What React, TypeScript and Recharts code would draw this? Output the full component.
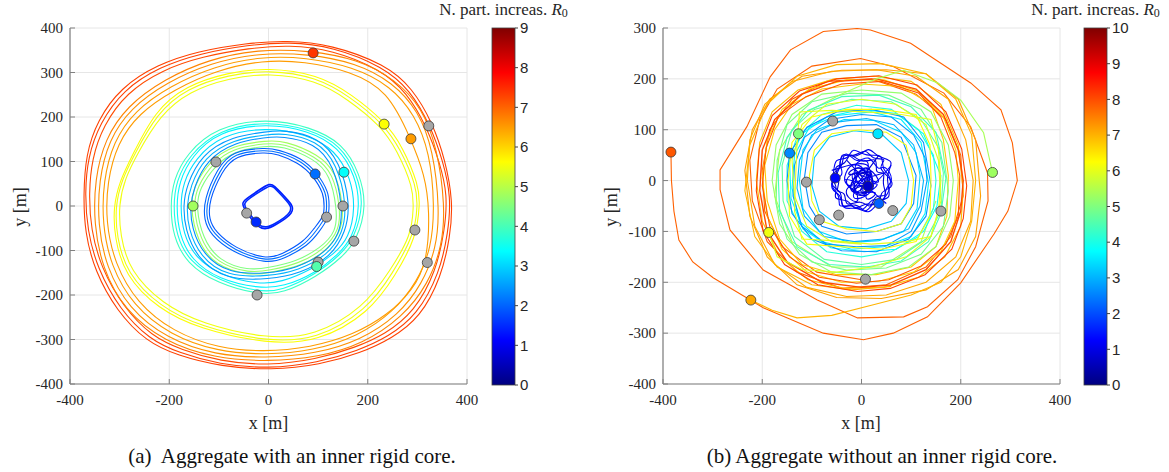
import React from 'react';
import { ScatterChart, Scatter, XAxis, YAxis, CartesianGrid } from 'recharts';

type P = [number, number];

// ---------- panel (a): aggregate with an inner rigid core ----------
const redA1: P[] = [[368,20],[362,-60],[345,-150],[300,-245],[240,-295],[180,-325],[100,-352],[0,-366],[-100,-356],[-180,-330],[-240,-300],[-300,-232],[-345,-140],[-365,-55],[-370,30],[-364,110],[-340,186],[-293,261],[-219,313],[-138,343],[-40,362],[40,369],[130,358],[231,313],[285,261],[326,182],[352,100]];
const redA2: P[] = [[361,25],[355,-55],[338,-146],[294,-238],[234,-289],[175,-318],[96,-345],[-2,-359],[-98,-349],[-176,-323],[-235,-293],[-293,-227],[-338,-137],[-358,-52],[-362,28],[-356,106],[-333,181],[-286,255],[-214,306],[-134,336],[-38,355],[42,362],[128,351],[226,307],[279,255],[319,178],[345,98]];
const redA3: P[] = [[372,10],[366,-70],[348,-160],[306,-250],[248,-298],[186,-330],[104,-357],[5,-369],[-95,-361],[-184,-336],[-246,-305],[-306,-236],[-350,-146],[-370,-60],[-373,25],[-368,116],[-345,192],[-298,266],[-224,318],[-142,348],[-44,366],[36,372],[126,363],[236,318],[290,265],[331,186],[356,104]];
const orangeA1: P[] = [[356,0],[350,-90],[322,-175],[270,-250],[190,-310],[100,-340],[0,-350],[-110,-342],[-210,-305],[-290,-235],[-335,-140],[-352,-40],[-350,60],[-330,150],[-285,225],[-210,285],[-120,330],[-20,352],[80,350],[180,330],[255,285],[310,220],[340,130]];
const orangeA2: P[] = [[345,-10],[338,-95],[310,-175],[262,-245],[185,-302],[95,-332],[-5,-342],[-108,-335],[-205,-298],[-282,-230],[-327,-138],[-344,-42],[-342,58],[-322,148],[-278,220],[-205,278],[-116,322],[-18,344],[78,342],[176,322],[250,278],[302,214],[332,126]];
const orangeA3: P[] = [[335,0],[328,-95],[300,-170],[252,-238],[180,-293],[90,-325],[-5,-335],[-104,-327],[-198,-290],[-273,-224],[-318,-134],[-335,-40],[-333,56],[-313,144],[-270,214],[-198,270],[-110,314],[-15,336],[75,334],[170,313],[246,270],[295,205],[325,120]];
const orangeA4: P[] = [[325,-10],[320,-127],[290,-190],[240,-245],[170,-290],[85,-318],[-10,-328],[-100,-320],[-192,-283],[-265,-218],[-310,-130],[-328,-35],[-325,55],[-305,140],[-262,208],[-190,262],[-105,305],[-12,328],[72,325],[165,303],[240,260],[287,151],[315,70]];
const yellowA1: P[] = [[300,0],[295,-60],[251,-151],[198,-234],[97,-301],[-4,-305],[-138,-271],[-219,-226],[-286,-151],[-306,-69],[-309,0],[-295,60],[-273,110],[-225,209],[-164,265],[-80,295],[0,306],[97,290],[164,246],[232,184],[265,130],[299,43]];
const yellowA2: P[] = [[292,-5],[288,-65],[245,-146],[192,-228],[94,-293],[-6,-298],[-134,-265],[-214,-220],[-280,-146],[-299,-66],[-302,4],[-289,62],[-266,114],[-219,204],[-160,258],[-78,288],[2,299],[95,283],[160,240],[226,180],[259,126],[292,40]];
const yellowA3: P[] = [[305,5],[298,-70],[256,-156],[203,-240],[100,-306],[-2,-310],[-140,-276],[-223,-231],[-290,-155],[-310,-72],[-313,-2],[-299,58],[-277,108],[-229,214],[-167,270],[-82,300],[-2,311],[99,296],[168,251],[236,188],[270,134],[303,46]];
const greenA1: P[] = [[144,0],[144,-54],[110,-99],[63,-129],[0,-145],[-37,-151],[-104,-129],[-138,-76],[-152,0],[-144,43],[-112,97],[-71,130],[-4,141],[29,141],[97,111],[130,73]];
const greenA2: P[] = [[150,5],[150,-52],[115,-104],[66,-135],[2,-150],[-38,-157],[-108,-134],[-144,-79],[-158,2],[-150,46],[-117,102],[-74,136],[-2,147],[31,147],[101,116],[136,76]];
const greenA3: P[] = [[138,-5],[137,-58],[104,-95],[58,-124],[-3,-139],[-40,-145],[-100,-124],[-133,-72],[-146,-3],[-139,40],[-107,92],[-68,124],[-6,135],[27,135],[93,106],[124,70]];
const cyanA1: P[] = [[198,0],[178,-76],[150,-114],[97,-159],[29,-196],[-17,-200],[-104,-174],[-165,-129],[-192,-69],[-198,-2],[-192,58],[-165,118],[-104,178],[-4,197],[84,178],[150,141],[184,73]];
const cyanA2: P[] = [[192,5],[174,-70],[145,-110],[94,-154],[27,-190],[-18,-194],[-100,-168],[-160,-125],[-186,-66],[-192,0],[-186,56],[-160,114],[-100,172],[-3,191],[82,173],[146,137],[179,70]];
const cyanA3: P[] = [[185,0],[170,-70],[140,-110],[95,-150],[30,-182],[-20,-185],[-100,-165],[-155,-122],[-180,-65],[-186,0],[-180,55],[-155,112],[-100,168],[-5,186],[80,170],[142,132],[175,68]];
const cyanA4: P[] = [[175,-5],[162,-72],[132,-108],[88,-142],[25,-172],[-22,-176],[-96,-156],[-148,-116],[-172,-62],[-178,2],[-172,52],[-148,106],[-95,160],[-6,177],[76,162],[135,126],[166,62]];
const azureA1: P[] = [[158,0],[150,-60],[120,-110],[60,-145],[0,-158],[-84,-159],[-138,-114],[-162,-50],[-165,0],[-158,43],[-130,110],[-70,150],[-4,160],[29,164],[97,148],[138,96]];
const azureA2: P[] = [[165,5],[156,-58],[126,-114],[64,-152],[2,-165],[-86,-166],[-144,-118],[-168,-52],[-172,2],[-165,46],[-136,115],[-73,157],[-2,167],[31,171],[101,155],[144,100]];
const azureA3: P[] = [[150,-5],[144,-62],[114,-106],[56,-140],[-2,-152],[-80,-152],[-132,-110],[-155,-48],[-158,-2],[-151,40],[-124,105],[-66,144],[-6,154],[27,157],[93,142],[132,92]];
const blueA1: P[] = [[117,0],[117,-24],[97,-54],[77,-84],[29,-114],[-4,-125],[-71,-99],[-112,-61],[-125,-31],[-125,14],[-98,81],[-71,119],[-4,126],[17,122],[64,103],[94,72],[117,29]];
const blueA2: P[] = [[122,2],[122,-26],[102,-58],[81,-88],[31,-119],[-4,-130],[-74,-104],[-117,-64],[-130,-32],[-130,15],[-103,84],[-74,124],[-4,131],[18,127],[67,108],[98,75],[122,30]];
const blueA3: P[] = [[112,-3],[112,-22],[92,-50],[72,-80],[26,-109],[-4,-120],[-68,-95],[-107,-58],[-120,-30],[-120,12],[-94,77],[-68,114],[-5,121],[16,117],[60,98],[90,68],[112,27]];
const squareA1: P[] = [[3,52],[-20,35],[-40,20],[-54,8],[-50,-5],[-35,-28],[-24,-46],[-5,-54],[15,-42],[35,-28],[47,-16],[50,-2],[40,12],[25,30],[12,45]];
const squareA2: P[] = [[5,48],[-18,32],[-38,18],[-50,6],[-46,-6],[-32,-26],[-22,-42],[-5,-50],[14,-39],[33,-26],[44,-14],[46,-1],[37,11],[23,28],[11,42]];

// markers: v = R0 value, null = grey marker
const dotsA = [
  { x: 90, y: 344, v: 7.4 }, { x: 233, y: 184, v: 5.6 }, { x: 287, y: 151, v: 6.5 },
  { x: 323, y: 180, v: null }, { x: 295, y: -54, v: null }, { x: 320, y: -127, v: null },
  { x: 94, y: 72, v: 2.1 }, { x: 152, y: 76, v: 3.4 }, { x: 117, y: -25, v: null },
  { x: 150, y: 0, v: null }, { x: 172, y: -79, v: null }, { x: 100, y: -126, v: null },
  { x: 97, y: -136, v: 4.1 }, { x: -23, y: -200, v: null }, { x: -152, y: 0, v: 4.8 },
  { x: -106, y: 99, v: null }, { x: -44, y: -16, v: null }, { x: -25, y: -36, v: 1.5 },
];

// ---------- panel (b): aggregate without an inner rigid core ----------
const outerB: P[] = [[-384,56],[-383,0],[-378,-60],[-368,-117],[-340,-160],[-299,-191],[-198,-250],[-77,-300],[4,-313],[64,-300],[133,-268],[200,-201],[267,-105],[295,-60],[314,0],[304,74],[281,139],[220,192],[99,270],[18,296],[-9,299],[-77,293],[-143,257],[-184,204],[-231,106],[-285,21],[-285,-18],[-265,-97],[-198,-176],[-89,-235],[-8,-270],[85,-268],[133,-248],[194,-195],[230,-130],[255,-40],[254,15],[220,106],[166,172],[65,224],[-2,240],[-100,225],[-170,180],[-205,120],[-225,40],[-220,-40],[-190,-120],[-130,-180],[-40,-212],[50,-205],[130,-170],[180,-110],[205,-30],[200,50],[170,120],[110,170],[20,200],[-70,195],[-140,160],[-185,100],[-200,20],[-195,-60],[-160,-130],[-90,-180],[0,-195]];
const orangeB1: P[] = [[225,0],[220,-80],[190,-150],[130,-200],[50,-225],[-30,-228],[-110,-210],[-175,-165],[-215,-90],[-230,0],[-225,80],[-195,150],[-140,195],[-60,215],[30,218],[110,205],[175,160],[210,80]];
const orangeB2: P[] = [[205,-20],[200,-90],[168,-150],[115,-190],[45,-210],[-35,-212],[-108,-195],[-165,-150],[-200,-80],[-212,0],[-205,75],[-180,135],[-128,178],[-55,200],[25,205],[100,195],[160,150],[195,70]];
const orangeB3: P[] = [[-223,-235],[-180,-255],[-130,-270],[-60,-265],[20,-245],[100,-225],[160,-200],[200,-150],[222,-80],[230,0],[222,90],[190,160],[130,210],[40,230],[-50,228],[-130,205],[-190,150],[-225,70],[-235,-20],[-215,-110],[-170,-170],[-100,-205],[-20,-215],[60,-208]];
const orangeB4: P[] = [[175,10],[172,-70],[150,-130],[100,-170],[30,-185],[-50,-185],[-120,-165],[-165,-115],[-190,-40],[-195,30],[-175,100],[-140,150],[-80,180],[0,190],[80,185],[140,150],[165,80]];
const orangeB5: P[] = [[240,-30],[230,-110],[195,-175],[130,-215],[40,-232],[-50,-230],[-130,-205],[-190,-150],[-225,-70],[-235,20],[-220,100],[-185,160],[-120,205],[-40,217],[50,218],[130,210],[195,160],[230,80]];
const orangeB6: P[] = [[195,0],[188,-80],[160,-140],[105,-180],[35,-198],[-40,-200],[-110,-180],[-160,-135],[-190,-70],[-200,5],[-190,80],[-160,140],[-105,180],[-30,198],[45,198],[115,175],[165,125],[190,60]];
const redB1: P[] = [[205,0],[200,-60],[180,-120],[130,-175],[60,-205],[0,-210],[-80,-200],[-150,-160],[-190,-100],[-205,-20],[-200,60],[-175,120],[-120,170],[-50,195],[30,200],[110,180],[165,130],[195,60]];
const redB2: P[] = [[198,10],[195,-70],[170,-125],[120,-168],[55,-195],[-10,-202],[-85,-190],[-145,-150],[-185,-90],[-200,-10],[-192,65],[-168,125],[-112,165],[-40,190],[40,195],[115,172],[160,125],[188,55]];
const redB3: P[] = [[212,-10],[205,-75],[182,-135],[128,-185],[58,-212],[-8,-218],[-88,-205],[-155,-165],[-198,-100],[-212,-20],[-206,62],[-180,128],[-125,176],[-50,200],[35,206],[112,188],[170,135],[202,62]];
const greenB1: P[] = [[185,0],[178,-70],[150,-130],[95,-170],[20,-185],[-60,-180],[-125,-145],[-165,-85],[-180,0],[-172,70],[-140,130],[-80,170],[0,178],[80,172],[140,135],[175,70]];
const greenB2: P[] = [[165,15],[160,-60],[130,-115],[70,-155],[0,-165],[-75,-155],[-135,-110],[-158,-40],[-160,30],[-140,100],[-95,140],[-20,160],[60,155],[120,120],[155,65]];
const greenB3: P[] = [[150,-40],[120,-120],[40,-170],[-60,-170],[-140,-120],[-175,-30],[-165,60],[-120,130],[-40,170],[30,200],[85,217],[154,192],[200,158],[246,94],[257,46],[264,16]];
const greenB4: P[] = [[175,-20],[165,-90],[120,-145],[50,-172],[-30,-176],[-100,-160],[-150,-115],[-172,-45],[-170,40],[-150,110],[-100,155],[-25,172],[55,168],[120,140],[162,75]];
const greenB5: P[] = [[170,5],[160,-65],[135,-120],[80,-158],[10,-170],[-65,-165],[-130,-130],[-165,-60],[-168,15],[-150,85],[-108,138],[-40,165],[35,168],[100,145],[150,95]];
const tealB1: P[] = [[150,0],[145,-55],[115,-110],[60,-140],[0,-150],[-70,-140],[-120,-100],[-150,-40],[-150,30],[-130,85],[-80,130],[-10,148],[60,140],[115,100],[145,50]];
const tealB2: P[] = [[135,-5],[128,-65],[100,-110],[45,-130],[-20,-135],[-80,-120],[-125,-80],[-140,-15],[-135,50],[-105,105],[-50,128],[20,135],[80,120],[120,75]];
const tealB3: P[] = [[160,10],[152,-50],[125,-100],[70,-135],[5,-140],[-62,-132],[-118,-95],[-142,-35],[-145,38],[-120,92],[-70,125],[0,140],[70,132],[125,92]];
const cyanB1: P[] = [[118,10],[112,-55],[85,-100],[35,-118],[-25,-122],[-85,-100],[-118,-55],[-125,0],[-118,60],[-90,100],[-35,120],[25,118],[80,95],[110,55]];
const azureB1: P[] = [[125,0],[118,-50],[95,-95],[45,-115],[-15,-120],[-75,-110],[-115,-70],[-130,-15],[-125,40],[-100,90],[-50,115],[10,122],[65,110],[105,70]];
const azureB2: P[] = [[110,10],[105,-45],[80,-85],[30,-100],[-30,-105],[-80,-90],[-105,-50],[-115,5],[-108,55],[-80,95],[-30,108],[30,110],[80,85]];
const azureB3: P[] = [[140,-10],[130,-70],[95,-115],[30,-140],[-40,-138],[-100,-115],[-140,-65],[-150,0],[-145,54],[-110,105],[-50,135],[20,140],[85,125],[125,75]];
const azureB4: P[] = [[95,0],[90,-45],[60,-80],[10,-95],[-45,-90],[-85,-60],[-100,-10],[-95,45],[-65,85],[-15,98],[40,92],[80,55]];
const azureB5: P[] = [[132,0],[120,-60],[100,-100],[50,-128],[-10,-130],[-70,-125],[-120,-90],[-138,-30],[-135,30],[-115,85],[-65,120],[0,130],[60,125],[105,90],[128,45]];
const yellowB1: P[] = [[160,0],[155,-60],[140,-110],[90,-120],[20,-125],[-60,-118],[-120,-115],[-135,-60],[-133,0],[-130,70],[-125,135],[-60,138],[10,135],[80,130],[140,120],[155,60]];
const yellowB2: P[] = [[105,0],[100,-50],[80,-85],[30,-100],[-30,-95],[-80,-80],[-100,-40],[-105,10],[-95,60],[-60,92],[-5,100],[50,95],[90,70]];
const yellowB3: P[] = [[-187,-102],[-170,-150],[-120,-175],[-50,-180],[20,-170],[90,-150],[140,-110],[160,-40],[155,40],[130,110],[70,150],[0,160],[-70,150],[-120,110],[-140,40],[-135,-30],[-110,-90],[-60,-120],[0,-125]];
const yellowB4: P[] = [[140,5],[138,-70],[110,-120],[40,-135],[-40,-130],[-110,-125],[-145,-70],[-148,0],[-140,75],[-100,125],[-30,140],[40,140],[110,130],[138,70]];
const tangleB1: P[] = [[60,5],[30,25],[55,45],[20,40],[10,65],[-15,45],[-40,55],[-35,25],[-70,10],[-45,-10],[-60,-40],[-25,-35],[-15,-62],[10,-40],[40,-55],[35,-20],[65,-15]];
const tangleB2: P[] = [[50,20],[25,10],[35,50],[0,30],[-25,60],[-30,30],[-60,30],[-40,0],[-55,-25],[-30,-20],[-35,-55],[0,-35],[20,-60],[25,-25],[55,-35],[40,-5]];
const tangleB3: P[] = [[68,0],[45,35],[35,15],[15,55],[-10,30],[-30,62],[-50,35],[-30,10],[-72,-5],[-40,-30],[-50,-55],[-20,-45],[5,-65],[20,-30],[50,-45],[45,-15]];
const tangleB6: P[] = [[55,-30],[62,10],[40,20],[45,55],[10,45],[-20,68],[-25,40],[-55,45],[-55,15],[-65,-20],[-40,-25],[-40,-60],[-10,-50],[15,-68],[30,-45]];
const tangleB7: P[] = [[45,10],[70,40],[30,45],[15,70],[-10,40],[-45,60],[-40,20],[-70,-10],[-35,-20],[-45,-60],[-10,-40],[10,-70],[25,-35],[65,-40]];
const zigB1: P[] = [[-60,20],[40,50],[-10,-60],[55,-10],[-50,-40],[20,60],[30,-50],[-65,5],[50,35],[-30,-55],[0,55],[60,-30],[-45,45],[15,-65],[-60,-15],[45,15]];
const zigB2: P[] = [[50,-45],[-40,30],[35,55],[-20,-50],[65,10],[-55,-30],[-15,62],[40,-30],[-65,25],[20,-60],[30,40],[-45,-55],[55,-15],[-30,50],[0,-40],[60,30]];
const zigB3: P[] = [[-30,40],[30,-20],[-20,-30],[40,30],[-50,0],[10,45],[20,-45],[-40,-15],[45,-5],[-10,30],[-35,-45],[35,50]];

const dotsB = [
  { x: -384, y: 56, v: 7.9 }, { x: -223, y: -235, v: 7.1 }, { x: -187, y: -102, v: 6.1 },
  { x: 264, y: 16, v: 5.3 }, { x: -58, y: 117, v: null }, { x: -127, y: 92, v: 5.0 },
  { x: 33, y: 92, v: 3.5 }, { x: -145, y: 54, v: 2.6 }, { x: -111, y: -3, v: null },
  { x: -53, y: 5, v: 1.3 }, { x: 13, y: -11, v: 0.7 }, { x: 35, y: -45, v: 2.2 },
  { x: 63, y: -59, v: null }, { x: 160, y: -60, v: null }, { x: -85, y: -77, v: null },
  { x: -46, y: -68, v: null }, { x: 8, y: -194, v: null },
];

const xTicks = [-400, -200, 0, 200, 400];
const yTicksA = [-400, -300, -200, -100, 0, 100, 200, 300, 400];
const yTicksB = [-400, -300, -200, -100, 0, 100, 200, 300];
const cbarTicksA = [0, 1, 2, 3, 4, 5, 6, 7, 8, 9];
const cbarTicksB = [0, 1, 2, 3, 4, 5, 6, 7, 8, 9, 10];

type Curve = 'basisClosed' | 'linearClosed' | 'linear' | 'basis';
type Path = { pts: P[]; level: number; curve?: Curve; w?: number };

const pathsA: Path[] = [
  { pts: redA3, level: 7.3 }, { pts: redA1, level: 7.3 }, { pts: redA2, level: 7.2 },
  { pts: orangeA1, level: 6.7 }, { pts: orangeA2, level: 6.6 }, { pts: orangeA3, level: 6.5 }, { pts: orangeA4, level: 6.5 },
  { pts: yellowA3, level: 5.6 }, { pts: yellowA1, level: 5.5 }, { pts: yellowA2, level: 5.5 },
  { pts: cyanA1, level: 3.9 }, { pts: cyanA2, level: 3.6 }, { pts: cyanA3, level: 3.3 }, { pts: cyanA4, level: 3.1 },
  { pts: greenA2, level: 4.8 }, { pts: greenA1, level: 4.7 }, { pts: greenA3, level: 4.5 },
  { pts: azureA2, level: 2.5 }, { pts: azureA1, level: 2.7 }, { pts: azureA3, level: 2.4 },
  { pts: blueA2, level: 2.0 }, { pts: blueA1, level: 2.1 }, { pts: blueA3, level: 1.9 },
  { pts: squareA1, level: 1.4, w: 1.6 }, { pts: squareA2, level: 1.5, w: 1.6 },
];

const pathsB: Path[] = [
  { pts: outerB, level: 7.8, curve: 'linear' },
  { pts: orangeB5, level: 7.2 }, { pts: orangeB1, level: 7.1 }, { pts: orangeB3, level: 7.0, curve: 'linear' },
  { pts: orangeB2, level: 6.9 }, { pts: orangeB4, level: 6.8 }, { pts: orangeB6, level: 6.7 },
  { pts: redB3, level: 8.1 }, { pts: redB1, level: 8.0, w: 1.4 }, { pts: redB2, level: 7.9 },
  { pts: greenB1, level: 5.2 }, { pts: greenB4, level: 4.9 }, { pts: greenB3, level: 5.4, curve: 'linear' },
  { pts: greenB2, level: 4.7 }, { pts: greenB5, level: 4.4 },
  { pts: tealB3, level: 3.8 }, { pts: tealB1, level: 4.1 }, { pts: tealB2, level: 3.6 }, { pts: cyanB1, level: 3.4 },
  { pts: azureB3, level: 2.7 }, { pts: azureB5, level: 2.8 }, { pts: azureB1, level: 3.0 },
  { pts: azureB2, level: 2.6 }, { pts: azureB4, level: 3.2 },
  { pts: yellowB4, level: 6.2 }, { pts: yellowB1, level: 6.0 }, { pts: yellowB3, level: 5.9, curve: 'linear' }, { pts: yellowB2, level: 6.1 },
  { pts: tangleB6, level: 1.2, curve: 'basisClosed' }, { pts: tangleB1, level: 1.0, curve: 'basisClosed' },
  { pts: tangleB3, level: 1.3, curve: 'basisClosed' }, { pts: tangleB7, level: 1.0, curve: 'basisClosed' },
  { pts: tangleB2, level: 0.9, curve: 'basisClosed' },
  { pts: zigB1, level: 1.0, curve: 'basis' }, { pts: zigB2, level: 1.2, curve: 'basis' }, { pts: zigB3, level: 0.8, curve: 'basis' },
];

// MATLAB jet colormap
function jet(t: number) {
  const c = (v: number) => Math.round(255 * Math.max(0, Math.min(1, v)));
  const r = c(1.5 - Math.abs(4 * t - 3));
  const g = c(1.5 - Math.abs(4 * t - 2));
  const b = c(1.5 - Math.abs(4 * t - 1));
  return `rgb(${r},${g},${b})`;
}
const jetStops = [0, 0.125, 0.375, 0.625, 0.875, 1];

const toXY = (arr: P[]) => arr.map(([x, y]) => ({ x, y }));
const noDot = () => <g />;

const SERIF = "'Liberation Serif', 'Times New Roman', serif";
const SANS = "'Liberation Sans', Arial, sans-serif";
const TXT = '#262626';
const AXIS = '#808080';

const XTick = (props: any) => {
  const { x, y, payload } = props;
  return (
    <g>
      <line x1={x} x2={x} y1={y - 10} y2={y - 15} stroke={AXIS} />
      <text x={x} y={y} dy="0.71em" textAnchor="middle" fontFamily={SERIF} fontSize={15} fill={TXT}>{payload.value}</text>
    </g>
  );
};

const YTick = (props: any) => {
  const { x, y, payload } = props;
  return (
    <g>
      <line x1={x + 7} x2={x + 12} y1={y} y2={y} stroke={AXIS} />
      <text x={x} y={y} dy="0.35em" textAnchor="end" fontFamily={SERIF} fontSize={15} fill={TXT}>{payload.value}</text>
    </g>
  );
};

function Panel({ paths, dots, max, yDomain, yTicks, closedType }: {
  paths: Path[]; dots: { x: number; y: number; v: number | null }[]; max: number;
  yDomain: [number, number]; yTicks: number[]; closedType: Curve;
}) {
  const dotShape = (props: any) => {
    const { cx, cy, payload } = props;
    const fill = payload.v == null ? '#a6a6a6' : jet(payload.v / max);
    return <circle cx={cx} cy={cy} r={5} fill={fill} stroke="#3a3a3a" strokeWidth={0.8} />;
  };
  return (
    <ScatterChart width={480} height={420} margin={{ top: 28, right: 13, bottom: 6, left: 0 }}>
      <CartesianGrid stroke="#e6e6e6" />
      <XAxis type="number" dataKey="x" domain={[-400, 400]} ticks={xTicks} allowDataOverflow
        height={30} tickSize={4} tickMargin={6} tickLine={false} tick={<XTick />}
        axisLine={{ stroke: AXIS, strokeWidth: 1.2 }} />
      <YAxis type="number" dataKey="y" domain={yDomain} ticks={yTicks} allowDataOverflow
        width={70} tickSize={4} tickMargin={3} tickLine={false} tick={<YTick />}
        axisLine={{ stroke: AXIS, strokeWidth: 1.2 }} />
      {paths.map((p, i) => (
        <Scatter key={i} data={toXY(p.pts)} shape={noDot} isAnimationActive={false}
          line={{ stroke: jet(p.level / max), strokeWidth: p.w ?? 1.1 }}
          lineJointType={p.curve ?? closedType} />
      ))}
      <Scatter data={dots} shape={dotShape} isAnimationActive={false} />
    </ScatterChart>
  );
}

function Colorbar({ id, x, ticks, max }: { id: string; x: number; ticks: number[]; max: number }) {
  const top = 28, bottom = 385, w = 23;
  const cx = x + w / 2;
  return (
    <g>
      <defs>
        <linearGradient id={id} x1="0" y1="1" x2="0" y2="0">
          {jetStops.map((s) => <stop key={s} offset={s} stopColor={jet(s)} />)}
        </linearGradient>
      </defs>
      <text x={cx} y={15} textAnchor="middle" fontFamily={SERIF} fontSize={17} fill={TXT}>
        N. part. increas. <tspan fontStyle="italic">R</tspan><tspan fontSize={12} dy={2}>0</tspan>
      </text>
      <rect x={x} y={top} width={w} height={bottom - top} fill={`url(#${id})`} stroke="#404040" strokeWidth={0.8} />
      {ticks.map((t) => {
        const ty = bottom - (t / max) * (bottom - top);
        return (
          <g key={t}>
            <line x1={x + w} x2={x + w + 3} y1={ty} y2={ty} stroke="#404040" />
            <text x={x + w + 5} y={ty} dy="0.35em" fontFamily={SANS} fontSize={15} fill={TXT}>{t}</text>
          </g>
        );
      })}
    </g>
  );
}

export default function App() {
  return (
    <div style={{ position: 'absolute', left: 0, top: 0, width: 1169, height: 472, background: '#fff', overflow: 'hidden' }}>
      <div style={{ position: 'absolute', left: 0, top: 0 }}>
        <Panel paths={pathsA} dots={dotsA} max={9} yDomain={[-400, 400]} yTicks={yTicksA} closedType="basisClosed" />
      </div>
      <div style={{ position: 'absolute', left: 593, top: 0 }}>
        <Panel paths={pathsB} dots={dotsB} max={10} yDomain={[-400, 300]} yTicks={yTicksB} closedType="linearClosed" />
      </div>
      <svg width={1169} height={472} style={{ position: 'absolute', left: 0, top: 0, pointerEvents: 'none' }}>
        <text x={268.5} y={423} dy="0.35em" textAnchor="middle" fontFamily={SERIF} fontSize={18} fill={TXT}>x [m]</text>
        <text x={861} y={423} dy="0.35em" textAnchor="middle" fontFamily={SERIF} fontSize={18} fill={TXT}>x [m]</text>
        <text transform="translate(20,207) rotate(-90)" dy="0.35em" textAnchor="middle" fontFamily={SERIF} fontSize={18} fill={TXT}>y [m]</text>
        <text transform="translate(611,207) rotate(-90)" dy="0.35em" textAnchor="middle" fontFamily={SERIF} fontSize={18} fill={TXT}>y [m]</text>
        <Colorbar id="jetA" x={492} ticks={cbarTicksA} max={9} />
        <Colorbar id="jetB" x={1084} ticks={cbarTicksB} max={10} />
        <text x={292} y={456} dy="0.35em" textAnchor="middle" fontFamily={SERIF} fontSize={21} fill="#111" style={{ whiteSpace: 'pre' }}>(a)  Aggregate with an inner rigid core.</text>
        <text x={882} y={456} dy="0.35em" textAnchor="middle" fontFamily={SERIF} fontSize={21} fill="#111">(b) Aggregate without an inner rigid core.</text>
      </svg>
    </div>
  );
}
